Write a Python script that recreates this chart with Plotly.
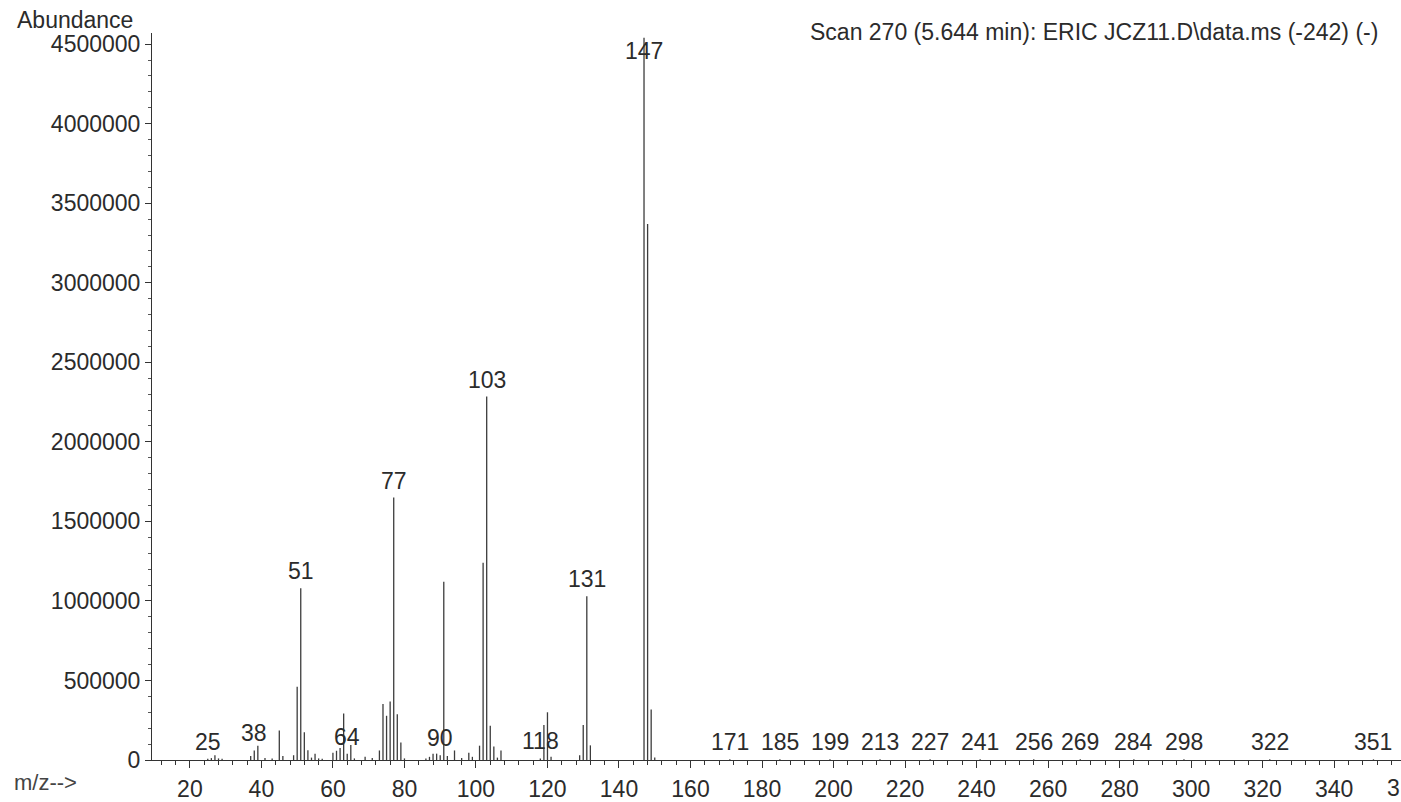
import plotly.graph_objects as go

# m/z values of the peaks and their abundances
mz = [25, 26, 27, 28, 29, 37, 38, 39, 41, 43, 45, 46, 49, 50, 51, 52, 53, 54, 55, 56, 57,
      60, 61, 62, 63, 64, 65, 66, 69, 71, 73, 74, 75, 76, 77, 78, 79, 80,
      86, 87, 88, 89, 90, 91, 92, 94, 96, 98, 99, 101, 102, 103, 104, 105, 106, 107,
      118, 119, 120, 121, 129, 130, 131, 132, 147, 148, 149, 150,
      171, 185, 199, 213, 227, 241, 256, 269, 284, 298, 322, 351]
abundance = [8000, 12000, 30000, 10000, 8000, 25000, 60000, 90000, 12000, 10000, 185000, 25000, 30000, 460000, 1080000, 175000, 62000, 15000, 40000, 10000, 8000,
             45000, 58000, 75000, 292000, 40000, 95000, 10000, 20000, 12000, 60000, 352000, 278000, 367000, 1650000, 288000, 110000, 10000,
             10000, 20000, 40000, 40000, 30000, 1120000, 25000, 60000, 12000, 45000, 20000, 90000, 1240000, 2285000, 215000, 85000, 15000, 60000,
             10000, 220000, 300000, 20000, 30000, 220000, 1030000, 92000, 4540000, 3370000, 318000, 15000,
             4000, 4000, 4000, 4000, 4000, 4000, 4000, 4000, 4000, 4000, 4000, 4000]

# Peaks that carry an m/z label
label_mz = [25, 38, 51, 64, 77, 90, 103, 118, 131, 147, 171, 185, 199, 213, 227, 241,
            256, 269, 284, 298, 322, 351]

y_ticks = [0, 500000, 1000000, 1500000, 2000000, 2500000, 3000000, 3500000, 4000000, 4500000]
x_ticks = [20, 40, 60, 80, 100, 120, 140, 160, 180, 200, 220, 240, 260, 280, 300, 320, 340]

title_text = "Scan 270 (5.644 min): ERIC JCZ11.D\\data.ms (-242) (-)"

FONT = "Liberation Sans, Arial, sans-serif"
TXT = "#2b2b2b"
FS = 23
Y_MAX = 4570000

xs, ys = [], []
for m, a in zip(mz, abundance):
    xs += [m, m, None]
    ys += [0, a, None]

fig = go.Figure()
fig.add_trace(go.Scatter(x=xs, y=ys, mode="lines",
                         line=dict(color="#3c3c3c", width=1.3),
                         hoverinfo="skip", showlegend=False))

lookup = dict(zip(mz, abundance))
for m in label_mz:
    a = lookup.get(m, 0)
    top = a > 0.95 * Y_MAX
    fig.add_annotation(x=m, y=a, text=str(m), showarrow=False,
                       xanchor="center", yanchor="top" if top else "bottom",
                       yshift=2,
                       font=dict(family=FONT, size=FS, color=TXT))

# the visible start of the cut-off tick label at the right edge of the page
fig.add_annotation(xref="paper", yref="paper", x=0.9936, y=-0.038, text="3",
                   showarrow=False, xanchor="center", yanchor="middle",
                   font=dict(family=FONT, size=FS, color=TXT))

fig.add_annotation(xref="paper", yref="paper", x=-0.11, y=1.018, text="Abundance",
                   showarrow=False, xanchor="left", yanchor="middle",
                   font=dict(family=FONT, size=FS, color=TXT))
fig.add_annotation(xref="paper", yref="paper", x=0.983, y=1.0015, text=title_text,
                   showarrow=False, xanchor="right", yanchor="middle",
                   font=dict(family=FONT, size=FS, color=TXT))
fig.add_annotation(xref="paper", yref="paper", x=-0.112, y=-0.031, text="m/z-->",
                   showarrow=False, xanchor="left", yanchor="middle",
                   font=dict(family=FONT, size=22, color="#444"))

fig.update_layout(
    width=1401, height=802,
    margin=dict(l=152, r=0, t=33, b=37),
    paper_bgcolor="white", plot_bgcolor="white",
    xaxis=dict(range=[9.4, 358.7], tickvals=x_ticks, ticks="outside", ticklen=7,
               tickcolor="#333", tickwidth=1, showline=True, linecolor="#333", linewidth=1,
               showgrid=False, zeroline=False, ticklabelstandoff=1,
               tickfont=dict(family=FONT, size=FS, color=TXT),
               minor=dict(dtick=4, tick0=0, ticks="outside", ticklen=4, tickcolor="#333",
                          showgrid=False)),
    yaxis=dict(range=[0, Y_MAX], tickvals=y_ticks, ticktext=[str(v) for v in y_ticks],
               ticks="outside", ticklen=6, tickcolor="#333", tickwidth=1,
               showline=True, linecolor="#333", linewidth=1, showgrid=False, zeroline=False,
               tickfont=dict(family=FONT, size=FS, color=TXT),
               minor=dict(dtick=100000, tick0=0, ticks="outside", ticklen=3,
                          tickcolor="#555", showgrid=False)),
)

fig.write_html("out.html")
